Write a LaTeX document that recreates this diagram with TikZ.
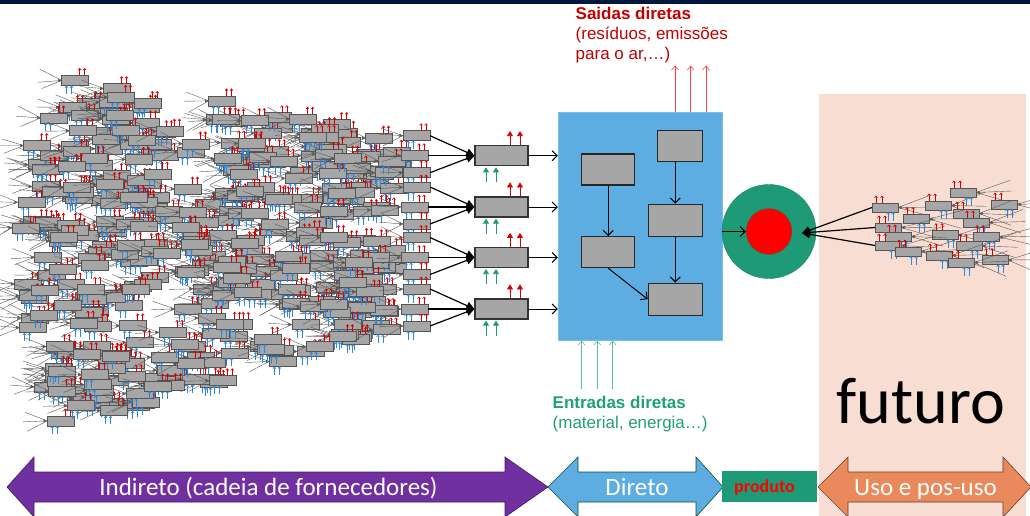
\documentclass[tikz,border=0pt]{standalone}
\usepackage{fontspec}
\setmainfont{Liberation Sans}
\newfontfamily\calfont{Carlito}
\usetikzlibrary{arrows.meta}

\definecolor{navybar}{RGB}{0,24,64}
\definecolor{unitgray}{RGB}{166,166,166}
\definecolor{unitedge}{RGB}{85,85,85}
\definecolor{outred}{RGB}{215,0,0}
\definecolor{inblue}{RGB}{45,135,220}
\definecolor{directblue}{RGB}{93,173,226}
\definecolor{prodgreen}{RGB}{30,155,118}
\definecolor{textgreen}{RGB}{32,160,120}
\definecolor{peach}{RGB}{248,221,211}
\definecolor{chainpurple}{RGB}{112,48,160}
\definecolor{useorange}{RGB}{233,137,92}
\definecolor{darkred}{RGB}{192,0,0}

\tikzset{
  unitbox/.style={draw=unitedge, fill=unitgray, line width=0.6pt, minimum width=27pt, minimum height=10pt, inner sep=0pt, outer sep=0pt},
  fanline/.style={black!65, line width=0.4pt},
  fantip/.style={fanline, -{Latex[length=3.5pt,width=3.5pt]}},
  outstub/.style={outred, line width=0.6pt, -{Straight Barb[length=1.8pt,width=3pt]}},
  instub/.style={inblue, line width=0.6pt, -{Straight Barb[length=1.8pt,width=3pt]}},
  mainbox/.style={draw=black!80, fill=unitgray, line width=1.2pt, minimum width=53pt, minimum height=20pt, inner sep=0pt},
  mainout/.style={outred, line width=0.8pt, -{Triangle[length=5pt,width=6pt]}},
  mainin/.style={prodgreen, line width=0.8pt, -{Triangle[length=5pt,width=6pt]}},
  feed/.style={black, line width=1.2pt, -{Triangle[length=8pt,width=8pt]}},
  flow/.style={black, line width=1pt, -{Straight Barb[length=5pt,width=10pt]}},
  innerbox/.style={draw=black!85, fill=unitgray, line width=1.2pt, inner sep=0pt},
  sidered/.style={red!75, line width=0.6pt, -{Straight Barb[length=4pt,width=7pt]}},
  sidegreen/.style={prodgreen!70, line width=0.6pt, -{Straight Barb[length=4pt,width=7pt]}},
  redtext/.style={text=darkred, font=\fontsize{17}{20}\selectfont, anchor=base west, inner sep=0pt},
  greentext/.style={text=textgreen, font=\fontsize{17}{20}\selectfont, anchor=base west, inner sep=0pt},
  bandtext/.style={text=white, font=\calfont\fontsize{25}{30}\selectfont, anchor=base, inner sep=0pt}
}

% unit of the supply chain, flow to the right; (#2,#3) = west side of the box
\def\lunit#1(#2,#3){%
  \begin{scope}[shift={(#2,#3)}]
    \pgfmathsetmacro\fanA{-12+6*rnd}
    \pgfmathsetmacro\fanB{-2+4*rnd}
    \pgfmathsetmacro\fanC{6+6*rnd}
    \draw[fanline] (-22,\fanA) -- (0,0);
    \draw[fanline] (-20,\fanC) -- (0,0);
    \draw[fantip] (-24,\fanB) -- (0,0);
    \node[unitbox, anchor=west] (#1) at (0,0) {};
    \draw[outstub] (18,-5) -- (18,-12.5);
    \draw[outstub] (23,-5) -- (23,-12.5);
    \draw[instub] (5,13.5) -- (5,5);
    \draw[instub] (10,13.5) -- (10,5);
  \end{scope}}

% unit of the use phase, flow to the left; (#2,#3) = east side of the box
\def\runit#1(#2,#3){%
  \begin{scope}[shift={(#2,#3)}]
    \pgfmathsetmacro\fanA{-14+6*rnd}
    \pgfmathsetmacro\fanB{-2+4*rnd}
    \pgfmathsetmacro\fanC{7+7*rnd}
    \draw[fanline] (34,\fanA) -- (0,0);
    \draw[fanline] (32,\fanC) -- (0,0);
    \draw[fantip] (36,\fanB) -- (0,0);
    \node[unitbox, minimum width=26pt, minimum height=9pt, anchor=east] (#1) at (0,0) {};
    \draw[outstub] (-22,-4.5) -- (-22,-12);
    \draw[outstub] (-16,-4.5) -- (-16,-12);
    \draw[instub] (-10,13) -- (-10,4.5);
    \draw[instub] (-5,13) -- (-5,4.5);
  \end{scope}}

\begin{document}
\begin{tikzpicture}[x=1pt, y=-1pt]
  \useasboundingbox (0,0) rectangle (1030,516);
  \clip (0,0) rectangle (1030,516);

  %%%%% background %%%%%
  \fill[navybar] (0,0) rectangle (1030,4);
  \fill[peach] (819,94) rectangle (1026,520);

  %%%%% indirect: supply chain cloud %%%%%
  \pgfmathsetseed{4242}
  \foreach \i in {1,...,380}{
    \pgfmathsetmacro\cu{rnd}
    \pgfmathsetmacro\cv{2*rnd-1}
    \pgfmathsetmacro\ux{38*\cv*\cv + 10 + \cu*(374 - 38*\cv*\cv)}
    \pgfmathsetmacro\uy{250 - 20*\cu + \cv*(180 - 82*\cu)}
    \lunit c\i(\ux,\uy)
  }

  % first tier suppliers
  \node[mainbox] (m1) at (501.5,155.7) {};
  \node[mainbox] (m2) at (501.5,207) {};
  \node[mainbox] (m3) at (501.5,257.5) {};
  \node[mainbox] (m4) at (501.5,309) {};

  \foreach \k/\yy in {1/155.7, 2/207, 3/257.5, 4/309}{
    \lunit fa\k(403,\yy-20)
    \lunit fb\k(401,\yy)
    \lunit fc\k(403,\yy+17)
    \draw[feed] (fa\k.east) -- (m\k.west);
    \draw[feed] (fb\k.east) -- (m\k.west);
    \draw[feed] (fc\k.east) -- (m\k.west);
    \draw[mainout] ([xshift=8.5]m\k.north) -- ++(0,-14);
    \draw[mainout] ([xshift=18.5]m\k.north) -- ++(0,-14);
    \draw[mainin] ([xshift=-15.5]m\k.south) ++(0,16) -- ++(0,-15);
    \draw[mainin] ([xshift=-5.5]m\k.south) ++(0,16) -- ++(0,-15);
  }

  %%%%% direct %%%%%
  \node[fill=directblue, draw=directblue!80!white, minimum width=164pt, minimum height=228pt, inner sep=0pt] (direct) at (640,226.5) {};
  \foreach \k in {1,...,4}
    \draw[flow] (m\k.east) -- (m\k.east -| direct.west);

  \node[innerbox, minimum width=53pt, minimum height=31pt] (d1) at (608.3,169.5) {};
  \node[innerbox, minimum width=45pt, minimum height=31pt] (d2) at (679.8,146.2) {};
  \node[innerbox, minimum width=54pt, minimum height=32pt] (d3) at (675.3,220.2) {};
  \node[innerbox, minimum width=53pt, minimum height=31pt] (d4) at (608.3,252.2) {};
  \node[innerbox, minimum width=54pt, minimum height=32pt] (d5) at (675.3,299.2) {};
  \draw[flow] (d1.south) -- (d4.north);
  \draw[flow] (d2.south -| d3.north) -- (d3.north);
  \draw[flow] (d3.south) -- (d5.north);
  \draw[flow] (d4.south) -- (d5.west);

  \draw[sidered] ([xshift=35]direct.north) -- ++(0,-46.7);
  \draw[sidered] ([xshift=50.7]direct.north) -- ++(0,-46.7);
  \draw[sidered] ([xshift=66]direct.north) -- ++(0,-46.7);
  \draw[sidegreen] ([xshift=-58.3]direct.south) ++(0,48.3) -- ++(0,-48.3);
  \draw[sidegreen] ([xshift=-42.7]direct.south) ++(0,48.3) -- ++(0,-48.3);
  \draw[sidegreen] ([xshift=-27.3]direct.south) ++(0,48.3) -- ++(0,-48.3);

  \node[redtext, font=\bfseries\fontsize{17}{20}\selectfont] (sa1) at (575.5,19.3) {Saidas diretas};
  \node[redtext] (sa2) at (575.5,39.5) {(resíduos, emissões};
  \node[redtext] (sa3) at (575.5,59.5) {para o ar,…)};
  \node[greentext, font=\bfseries\fontsize{17}{20}\selectfont] (en1) at (552.5,408.3) {Entradas diretas};
  \node[greentext] (en2) at (552.5,428) {(material, energia…)};

  %%%%% product %%%%%
  \node[circle, fill=prodgreen, draw=prodgreen!85!black, minimum size=94pt, inner sep=0pt] (prod) at (769,231.5) {};
  \node[circle, fill=red, draw=prodgreen!80!black, minimum size=46pt, inner sep=0pt] (core) at (769,231.5) {};
  \draw[flow] (core.west -| direct.east) -- (core.west);

  %%%%% use and end of life %%%%%
  \runit r1(898,207.5)
  \runit r7(951,205.5)
  \runit r8(976,192.5)
  \runit r11(1017,204.5)
  \runit r9(979,213.5)
  \runit r2(929,219)
  \runit r10(989,222.5)
  \runit r3(901,227.5)
  \runit r12(958,235)
  \runit r14(999,237)
  \runit r4(911,236.5)
  \runit r13(982,246)
  \runit r5(901,245.5)
  \runit r6(921,251.5)
  \runit r15(952,255.5)
  \runit r17(1008,260)
  \runit r16(974,262.5)
  \coordinate (rtip) at (802,233);
  \draw[feed] (r1.west) -- (rtip);
  \draw[feed] (r3.west) -- (rtip);
  \draw[feed] (r5.west) -- (rtip);

  \node[font=\calfont\fontsize{66}{70}\selectfont, anchor=base, inner sep=0pt] (fut) at (921,423) {futuro};

  %%%%% bottom bands %%%%%
  \draw[fill=chainpurple, draw=chainpurple!60!black, line width=0.6pt]
    (7,487) -- (34,457) -- (34,472) -- (505,472) -- (505,457) -- (548,487)
    -- (505,517) -- (505,502) -- (34,502) -- (34,517) -- cycle;
  \draw[fill=directblue, draw=prodgreen!50!black, line width=0.6pt]
    (548,487) -- (578,457) -- (578,472) -- (696,472) -- (696,457) -- (723,487)
    -- (696,517) -- (696,502) -- (578,502) -- (578,517) -- cycle;
  \draw[fill=useorange, draw=useorange!45!black, line width=0.6pt]
    (818,487) -- (848,457) -- (848,472) -- (1003,472) -- (1003,457) -- (1031,487)
    -- (1003,517) -- (1003,502) -- (848,502) -- (848,517) -- cycle;
  \node[fill=prodgreen, minimum width=94.7pt, minimum height=31pt, inner sep=0pt] (prodbox) at (769.3,486.5) {};

  \node[bandtext] (ind) at (268.5,495) {Indireto (cadeia de fornecedores)};
  \node[bandtext] (dir) at (637,495) {Direto};
  \node[font=\calfont\bfseries\fontsize{18}{20}\selectfont, text=red, anchor=base, inner sep=0pt] (prodtxt) at (764.5,492.3) {produto};
  \node[bandtext] (uso) at (925.5,495) {Uso e pos-uso};
\end{tikzpicture}
\end{document}
